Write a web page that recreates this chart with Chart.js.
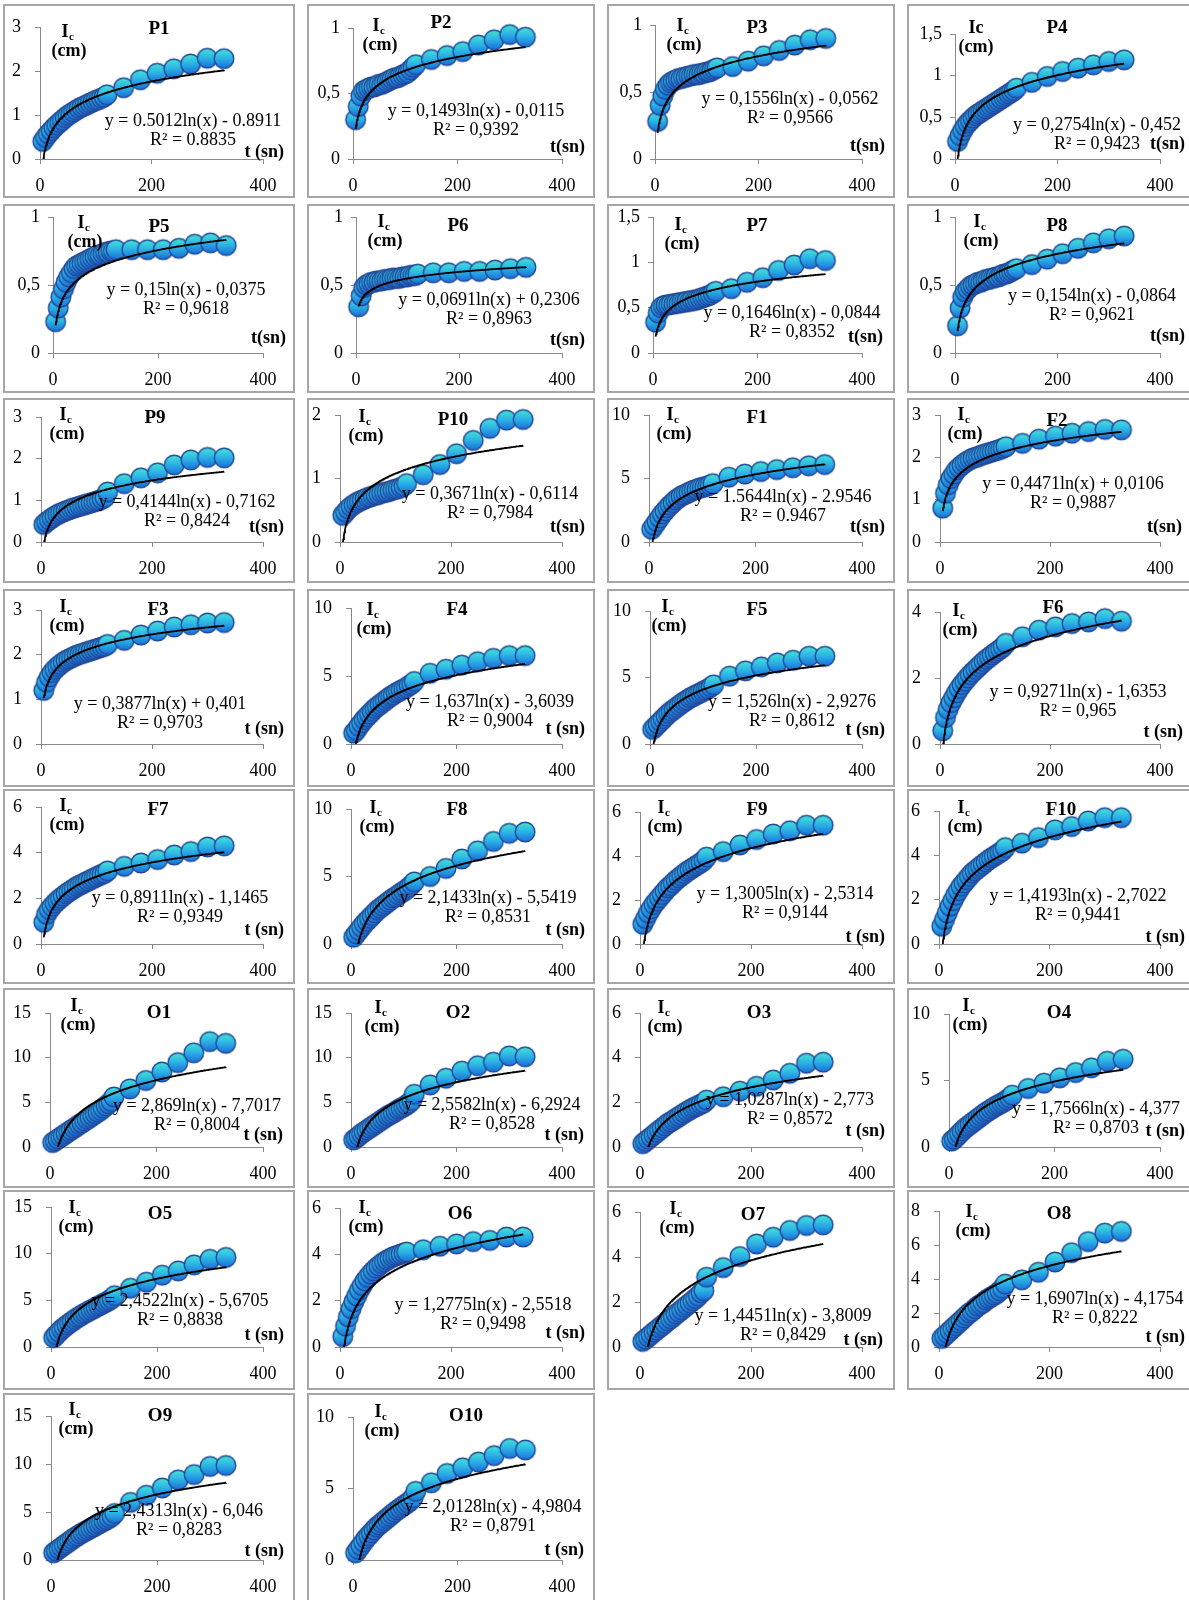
<!DOCTYPE html>
<html><head><meta charset="utf-8">
<script src="https://cdn.jsdelivr.net/npm/chart.js@4.4.1/dist/chart.umd.min.js"></script>
<style>
html,body{margin:0;padding:0;background:#fff;width:1189px;height:1600px;overflow:hidden;position:relative;}
.panel{position:absolute;border:2px solid #a6a6a6;box-sizing:border-box;background:#fff;overflow:hidden;}
.panel canvas{position:absolute;left:0;top:0;}
</style></head><body>
<script>
// ---------------- DATA ----------------
const times = [5,10,15,20,25,30,35,40,45,50,55,60,65,70,75,80,85,90,95,100,105,110,115,120,150,180,210,240,270,300,330];
const xTicks = [0,200,400];
const panelNames = ['P1','P2','P3','P4','P5','P6','P7','P8','P9','P10','F1','F2','F3','F4','F5','F6','F7','F8','F9','F10','O1','O2','O3','O4','O5','O6','O7','O8','O9','O10'];

const P1 = [0.40,0.49,0.57,0.64,0.71,0.77,0.83,0.88,0.94,0.99,1.03,1.07,1.11,1.15,1.18,1.21,1.24,1.27,1.30,1.33,1.35,1.38,1.41,1.46,1.62,1.80,1.95,2.05,2.16,2.29,2.28];
const P2 = [0.30,0.40,0.48,0.52,0.53,0.54,0.55,0.55,0.56,0.57,0.57,0.58,0.59,0.60,0.61,0.62,0.62,0.63,0.64,0.65,0.66,0.68,0.70,0.72,0.76,0.79,0.82,0.87,0.91,0.95,0.93];
const P3 = [0.28,0.40,0.47,0.52,0.55,0.57,0.58,0.59,0.60,0.60,0.61,0.61,0.62,0.62,0.63,0.63,0.63,0.64,0.64,0.65,0.65,0.66,0.67,0.68,0.69,0.73,0.77,0.81,0.85,0.89,0.90];
const P4 = [0.21,0.28,0.34,0.39,0.43,0.46,0.49,0.52,0.54,0.56,0.58,0.60,0.62,0.64,0.66,0.68,0.70,0.72,0.74,0.76,0.78,0.80,0.82,0.85,0.92,0.99,1.05,1.09,1.13,1.17,1.19];
const P5 = [0.23,0.33,0.41,0.47,0.52,0.56,0.59,0.62,0.64,0.65,0.66,0.67,0.68,0.69,0.70,0.71,0.72,0.72,0.73,0.74,0.74,0.75,0.75,0.76,0.76,0.76,0.76,0.77,0.80,0.81,0.79];
const P6 = [0.34,0.42,0.48,0.50,0.51,0.52,0.52,0.53,0.53,0.53,0.54,0.54,0.54,0.55,0.55,0.55,0.55,0.56,0.56,0.56,0.57,0.57,0.57,0.58,0.59,0.59,0.60,0.60,0.61,0.62,0.63];
const P7 = [0.34,0.44,0.50,0.52,0.53,0.53,0.54,0.54,0.55,0.55,0.56,0.56,0.57,0.57,0.58,0.58,0.59,0.60,0.61,0.62,0.63,0.64,0.66,0.68,0.71,0.78,0.83,0.91,0.97,1.04,1.02];
const P8 = [0.20,0.33,0.41,0.45,0.47,0.49,0.50,0.51,0.52,0.52,0.53,0.54,0.54,0.55,0.55,0.56,0.56,0.57,0.58,0.58,0.59,0.60,0.61,0.62,0.65,0.69,0.73,0.77,0.81,0.84,0.86];
const P9 = [0.42,0.48,0.53,0.58,0.62,0.66,0.69,0.72,0.75,0.77,0.80,0.82,0.84,0.86,0.88,0.90,0.92,0.94,0.96,0.98,1.00,1.03,1.07,1.20,1.40,1.54,1.66,1.85,1.97,2.03,2.02];
const P10 = [0.42,0.47,0.52,0.56,0.59,0.62,0.64,0.66,0.68,0.70,0.71,0.73,0.74,0.75,0.77,0.78,0.79,0.80,0.82,0.83,0.84,0.86,0.88,0.92,1.06,1.22,1.39,1.60,1.79,1.92,1.93];
const F1 = [1.0,1.3,1.6,1.9,2.2,2.45,2.7,2.9,3.1,3.3,3.45,3.6,3.7,3.8,3.9,4.0,4.1,4.15,4.25,4.3,4.35,4.4,4.5,4.6,5.1,5.35,5.55,5.7,5.85,6.0,6.1];
const F2 = [0.80,1.15,1.35,1.50,1.60,1.70,1.76,1.82,1.87,1.91,1.95,1.98,2.00,2.02,2.05,2.07,2.09,2.11,2.13,2.15,2.17,2.19,2.22,2.25,2.33,2.43,2.50,2.57,2.61,2.66,2.65];
const F3 = [1.20,1.38,1.50,1.60,1.67,1.73,1.78,1.83,1.87,1.90,1.93,1.96,1.99,2.01,2.03,2.05,2.07,2.09,2.11,2.13,2.15,2.17,2.19,2.23,2.32,2.44,2.53,2.62,2.67,2.71,2.72];
const F4 = [0.8,1.0,1.3,1.55,1.8,2.0,2.2,2.4,2.6,2.75,2.9,3.05,3.2,3.35,3.5,3.6,3.75,3.85,3.95,4.05,4.15,4.3,4.4,4.6,5.2,5.5,5.8,6.05,6.3,6.5,6.5];
const F5 = [1.1,1.3,1.5,1.7,1.9,2.1,2.3,2.45,2.6,2.75,2.9,3.05,3.2,3.3,3.45,3.55,3.65,3.75,3.85,3.95,4.05,4.15,4.3,4.45,5.1,5.5,5.8,6.1,6.3,6.6,6.6];
const F6 = [0.4,0.8,1.05,1.25,1.4,1.55,1.68,1.8,1.9,2.0,2.1,2.18,2.26,2.34,2.42,2.5,2.57,2.63,2.7,2.76,2.82,2.88,2.95,3.05,3.25,3.45,3.55,3.65,3.7,3.8,3.72];
const F7 = [0.95,1.3,1.5,1.65,1.78,1.9,2.0,2.1,2.2,2.28,2.36,2.44,2.52,2.58,2.64,2.7,2.76,2.82,2.88,2.94,3.0,3.05,3.1,3.2,3.4,3.55,3.7,3.9,4.05,4.25,4.3];
const F8 = [0.5,0.75,1.0,1.25,1.5,1.7,1.9,2.1,2.3,2.5,2.65,2.8,2.95,3.1,3.25,3.4,3.5,3.65,3.8,3.9,4.05,4.2,4.4,4.6,5.0,5.6,6.3,6.9,7.6,8.2,8.3];
const F9 = [0.9,1.15,1.4,1.6,1.8,1.95,2.1,2.25,2.4,2.55,2.65,2.78,2.9,3.0,3.1,3.2,3.3,3.38,3.46,3.54,3.62,3.7,3.8,3.95,4.2,4.5,4.75,5.0,5.15,5.4,5.4];
const F10 = [0.8,1.1,1.4,1.7,1.95,2.2,2.4,2.6,2.75,2.9,3.05,3.2,3.3,3.4,3.5,3.6,3.7,3.8,3.88,3.96,4.04,4.12,4.2,4.35,4.55,4.8,5.15,5.3,5.55,5.7,5.7];
const O1 = [0.5,0.7,0.9,1.1,1.3,1.5,1.72,1.9,2.1,2.3,2.52,2.7,2.9,3.1,3.3,3.5,3.72,3.9,4.1,4.35,4.6,4.85,5.1,5.6,6.5,7.45,8.4,9.45,10.55,11.8,11.6];
const O2 = [0.8,1.0,1.25,1.5,1.7,1.9,2.1,2.3,2.5,2.7,2.9,3.1,3.3,3.5,3.65,3.8,4.0,4.2,4.35,4.5,4.7,4.9,5.2,5.9,6.95,7.7,8.5,9.1,9.5,10.2,10.1];
const O3 = [0.15,0.25,0.35,0.45,0.55,0.65,0.75,0.85,0.95,1.05,1.12,1.2,1.28,1.36,1.44,1.52,1.6,1.67,1.74,1.8,1.86,1.92,1.98,2.1,2.25,2.5,2.72,3.0,3.3,3.75,3.8];
const O4 = [0.45,0.6,0.8,1.0,1.2,1.4,1.55,1.7,1.85,2.0,2.15,2.3,2.45,2.6,2.72,2.85,2.97,3.1,3.2,3.3,3.42,3.55,3.7,3.9,4.4,4.8,5.2,5.6,5.95,6.45,6.6];
const O5 = [1.0,1.3,1.6,1.9,2.1,2.35,2.55,2.75,2.95,3.15,3.3,3.5,3.65,3.8,3.95,4.1,4.25,4.4,4.55,4.7,4.85,5.0,5.2,5.5,6.3,6.95,7.7,8.15,8.8,9.4,9.6];
const O6 = [0.45,0.9,1.3,1.65,1.95,2.2,2.45,2.65,2.85,3.0,3.15,3.28,3.4,3.5,3.6,3.68,3.75,3.82,3.88,3.93,3.97,4.01,4.05,4.1,4.2,4.35,4.45,4.55,4.6,4.75,4.75];
const O7 = [0.25,0.35,0.45,0.55,0.66,0.75,0.86,0.95,1.05,1.16,1.25,1.35,1.46,1.55,1.65,1.76,1.85,1.95,2.06,2.15,2.26,2.4,2.5,3.1,3.53,4.02,4.58,4.88,5.18,5.4,5.43];
const O8 = [0.5,0.65,0.8,0.95,1.1,1.25,1.4,1.55,1.7,1.85,2.0,2.1,2.25,2.4,2.5,2.6,2.75,2.85,2.95,3.05,3.15,3.3,3.45,3.7,3.95,4.4,5.0,5.55,6.2,6.7,6.8];
const O9 = [0.75,0.95,1.15,1.35,1.55,1.75,1.95,2.15,2.35,2.5,2.7,2.85,3.0,3.15,3.3,3.45,3.6,3.75,3.9,4.05,4.2,4.35,4.55,4.85,6.0,6.75,7.5,8.35,8.9,9.75,9.85];
const O10 = [0.5,0.75,1.0,1.25,1.5,1.7,1.9,2.1,2.3,2.45,2.6,2.75,2.9,3.05,3.2,3.35,3.5,3.62,3.75,3.88,4.0,4.15,4.35,4.8,5.4,6.05,6.45,6.85,7.3,7.8,7.7];

const seriesValues = [P1,P2,P3,P4,P5,P6,P7,P8,P9,P10,F1,F2,F3,F4,F5,F6,F7,F8,F9,F10,O1,O2,O3,O4,O5,O6,O7,O8,O9,O10];

const yTicks = [
  [0,1,2,3],[0,0.5,1],[0,0.5,1],[0,0.5,1,1.5],
  [0,0.5,1],[0,0.5,1],[0,0.5,1,1.5],[0,0.5,1],
  [0,1,2,3],[0,1,2],[0,5,10],[0,1,2,3],
  [0,1,2,3],[0,5,10],[0,5,10],[0,2,4],
  [0,2,4,6],[0,5,10],[0,2,4,6],[0,2,4,6],
  [0,5,10,15],[0,5,10,15],[0,2,4,6],[0,5,10],
  [0,5,10,15],[0,2,4,6],[0,2,4,6],[0,2,4,6,8],
  [0,5,10,15],[0,5,10]
];

// trendline coefficients (y = a ln(x) + b) as printed on each panel
const trendA = [0.5012,0.1493,0.1556,0.2754,0.15,0.0691,0.1646,0.154,0.4144,0.3671,1.5644,0.4471,0.3877,1.637,1.526,0.9271,0.8911,2.1433,1.3005,1.4193,2.869,2.5582,1.0287,1.7566,2.4522,1.2775,1.4451,1.6907,2.4313,2.0128];
const trendB = [-0.8911,-0.0115,-0.0562,-0.452,-0.0375,0.2306,-0.0844,-0.0864,-0.7162,-0.6114,-2.9546,0.0106,0.401,-3.6039,-2.9276,-1.6353,-1.1465,-5.5419,-2.5314,-2.7022,-7.7017,-6.2924,-2.773,-4.377,-5.6705,-2.5518,-3.8009,-4.1754,-6.046,-4.9804];

const eqLabels = [
  'y = 0.5012ln(x) - 0.8911','y = 0,1493ln(x) - 0,0115','y = 0,1556ln(x) - 0,0562','y = 0,2754ln(x) - 0,452',
  'y = 0,15ln(x) - 0,0375','y = 0,0691ln(x) + 0,2306','y = 0,1646ln(x) - 0,0844','y = 0,154ln(x) - 0,0864',
  'y = 0,4144ln(x) - 0,7162','y = 0,3671ln(x) - 0,6114','y = 1.5644ln(x) - 2.9546','y = 0,4471ln(x) + 0,0106',
  'y = 0,3877ln(x) + 0,401','y = 1,637ln(x) - 3,6039','y = 1,526ln(x) - 2,9276','y = 0,9271ln(x) - 1,6353',
  'y = 0,8911ln(x) - 1,1465','y = 2,1433ln(x) - 5,5419','y = 1,3005ln(x) - 2,5314','y = 1,4193ln(x) - 2,7022',
  'y = 2,869ln(x) - 7,7017','y = 2,5582ln(x) - 6,2924','y = 1,0287ln(x) - 2,773','y = 1,7566ln(x) - 4,377',
  'y = 2,4522ln(x) - 5,6705','y = 1,2775ln(x) - 2,5518','y = 1,4451ln(x) - 3,8009','y = 1,6907ln(x) - 4,1754',
  'y = 2,4313ln(x) - 6,046','y = 2,0128ln(x) - 4,9804'
];
const r2Labels = [
  'R² = 0.8835','R² = 0,9392','R² = 0,9566','R² = 0,9423',
  'R² = 0,9618','R² = 0,8963','R² = 0,8352','R² = 0,9621',
  'R² = 0,8424','R² = 0,7984','R² = 0.9467','R² = 0,9887',
  'R² = 0,9703','R² = 0,9004','R² = 0,8612','R² = 0,965',
  'R² = 0,9349','R² = 0,8531','R² = 0,9144','R² = 0,9441',
  'R² = 0,8004','R² = 0,8528','R² = 0,8572','R² = 0,8703',
  'R² = 0,8838','R² = 0,9498','R² = 0,8429','R² = 0,8222',
  'R² = 0,8283','R² = 0,8791'
];
const xAxisLabels = ['t (sn)','t(sn)','t(sn)','t(sn)','t(sn)','t(sn)','t(sn)','t(sn)','t(sn)','t(sn)','t(sn)','t(sn)',
  't (sn)','t (sn)','t (sn)','t (sn)','t (sn)','t (sn)','t (sn)','t (sn)','t (sn)','t (sn)','t (sn)','t (sn)',
  't (sn)','t (sn)','t (sn)','t (sn)','t (sn)','t (sn)'];

// ---------------- LAYOUT (pixels, relative to each panel box) ----------------
const colLeft = [3,307,607,907], colWidth = [292,288,288,286];
const rowTop = [4,204,398,589,789,988,1190,1393], rowHeight = [194,189,185,198,195,200,200,210];
const axisBottomGap = [39,40,41,43,40,41,43,43];
const xRightPos = [260,255,255,253];
const plotTopPos = [23,24,21,30, 12,10,12,10, 19,17,17,17, 21,19,22,23, 18,20,23,22, 25,25,25,26, 17,18,22,21, 23,24];
const axisLeftPos = [37,46,48,48, 50,49,46,48, 38,33,42,33, 38,44,43,33, 38,44,33,32, 47,44,33,42, 48,33,33,32, 48,46];
const titlePos = [[156,25],[134,19],[150,24],[150,24],[156,23],[151,22],[150,22],[150,22],[152,20],[146,22],[150,20],[150,23],
  [155,21],[150,21],[150,21],[146,19],[155,21],[150,21],[150,21],[154,21],[156,25],[151,25],[152,25],[152,25],
  [157,24],[153,24],[146,25],[152,24],[157,23],[159,23]];
const cmPos = [[66,47],[73,41],[77,41],[69,43],[82,38],[78,37],[75,40],[74,37],[64,36],[59,38],[67,36],[58,36],
  [64,37],[67,40],[62,37],[53,41],[64,36],[70,38],[58,38],[58,38],[75,37],[75,39],[58,39],[63,37],
  [73,37],[59,37],[70,38],[66,41],[73,36],[75,38]];
const eqPos = [[190,117],[169,107],[183,95],[190,121],[183,86],[182,96],[185,109],[185,92],[184,104],[183,96],[176,99],[166,86],
  [157,115],[183,113],[185,113],[171,103],[177,109],[181,109],[178,105],[171,107],[194,118],[185,117],[183,112],[189,121],
  [177,111],[176,115],[176,126],[188,109],[176,118],[186,114]];
const tPos = [[281,148],[278,143],[278,142],[278,140],[283,134],[278,136],[276,133],[278,132],[281,129],[278,129],[278,129],[275,129],
  [281,140],[278,140],[278,141],[276,143],[281,141],[278,141],[278,148],[278,148],[280,147],[277,147],[278,143],[278,143],
  [281,145],[278,143],[276,150],[278,147],[281,158],[277,157]];

const FONT = '"Liberation Serif", "Times New Roman", serif';
const AXIS_COLOR = '#8a8a8a';

// marker: gradient circle
function makeMarker(){
  const s = 24, c = document.createElement('canvas');
  c.width = s; c.height = s;
  const g = c.getContext('2d');
  const r = 9.8;
  const grad = g.createLinearGradient(0, s/2 - r, 0, s/2 + r);
  grad.addColorStop(0, '#46e4cf');
  grad.addColorStop(0.45, '#2db6e7');
  grad.addColorStop(1, '#1a6fd6');
  g.beginPath(); g.arc(s/2, s/2, r, 0, Math.PI*2);
  g.fillStyle = grad; g.fill();
  g.lineWidth = 1.4; g.strokeStyle = '#22479a'; g.stroke();
  return c;
}
const marker = makeMarker();

function fmt(v){ return String(v).replace('.', ','); }

function textPlugin(i){
  return {
    id: 'panelText' + i,
    afterDraw(chart){
      const ctx = chart.ctx;
      ctx.save();
      ctx.fillStyle = '#000';
      ctx.textBaseline = 'middle';
      ctx.font = 'bold 19px ' + FONT;
      ctx.textAlign = 'center';
      ctx.fillText(panelNames[i], titlePos[i][0]-2, titlePos[i][1]-2);
      const cx = cmPos[i][0]-2, cy = cmPos[i][1]-2;
      ctx.font = 'bold 18px ' + FONT;
      ctx.fillText('(cm)', cx, cy);
      if (panelNames[i] === 'P4') {
        ctx.fillText('Ic', cx, cy - 19);
      } else {
        const iw = ctx.measureText('I').width;
        ctx.fillText('I', cx - 4, cy - 19);
        ctx.font = 'bold 11px ' + FONT;
        ctx.textAlign = 'left';
        ctx.fillText('c', cx - 4 + iw/2 + 0.5, cy - 14);
      }
      ctx.font = '18px ' + FONT;
      ctx.textAlign = 'center';
      ctx.fillText(eqLabels[i], eqPos[i][0]-2, eqPos[i][1]-2);
      ctx.fillText(r2Labels[i], eqPos[i][0]-2, eqPos[i][1]-2+19);
      ctx.font = 'bold 18px ' + FONT;
      ctx.textAlign = 'right';
      ctx.fillText(xAxisLabels[i], tPos[i][0]-2, tPos[i][1]-2);
      ctx.restore();
    }
  };
}

panelNames.forEach((name, i) => {
  const r = Math.floor(i/4), c = i % 4;
  const W = colWidth[c], H = rowHeight[r];
  const div = document.createElement('div');
  div.className = 'panel';
  div.style.left = colLeft[c] + 'px';
  div.style.top = rowTop[r] + 'px';
  div.style.width = W + 'px';
  div.style.height = H + 'px';
  const cv = document.createElement('canvas');
  cv.width = W - 4; cv.height = H - 4;
  cv.style.width = (W-4) + 'px'; cv.style.height = (H-4) + 'px';
  div.appendChild(cv);
  document.body.appendChild(div);

  const vals = seriesValues[i];
  const pts = times.map((t, k) => ({x: t, y: vals[k]}));
  const trend = [];
  for (let x = times[0]; x <= times[times.length-1]; x += 1) {
    trend.push({x: x, y: trendA[i]*Math.log(x) + trendB[i]});
  }
  const yt = yTicks[i];
  const hasComma = yt.some(v => fmt(v).indexOf(',') >= 0);
  const padRight = (W - 2) - xRightPos[c];

  new Chart(cv, {
    type: 'scatter',
    data: { datasets: [
      { data: trend, showLine: true, borderColor: '#000', borderWidth: 1.8, pointRadius: 0, pointHoverRadius: 0, fill: false, tension: 0 },
      { data: pts, pointStyle: marker, pointRadius: 10, pointHoverRadius: 10, clip: false }
    ]},
    options: {
      responsive: false, animation: false, devicePixelRatio: 1, events: [],
      layout: { padding: { left: 0, right: padRight, top: plotTopPos[i] - 2, bottom: 0 } },
      plugins: { legend: {display: false}, tooltip: {enabled: false}, title: {display: false} },
      scales: {
        x: {
          type: 'linear', min: 0, max: 400,
          afterBuildTicks: s => { s.ticks = xTicks.map(v => ({value: v})); },
          ticks: { font: {family: FONT, size: 18}, color: '#000', padding: 11, maxRotation: 0, autoSkip: false },
          grid: { drawOnChartArea: false, drawTicks: true, tickLength: 5, color: AXIS_COLOR },
          border: { display: true, color: AXIS_COLOR, width: 1 },
          afterFit: s => { s.height = axisBottomGap[r] - 2; s.paddingLeft = 0; s.paddingRight = 0; }
        },
        y: {
          type: 'linear', min: 0, max: yt[yt.length-1],
          afterBuildTicks: s => { s.ticks = yt.map(v => ({value: v})); },
          ticks: { font: {family: FONT, size: 18}, color: '#000', padding: hasComma ? 8 : 14, autoSkip: false, callback: v => fmt(v) },
          grid: { drawOnChartArea: false, drawTicks: true, tickLength: 5, color: AXIS_COLOR },
          border: { display: true, color: AXIS_COLOR, width: 1 },
          afterFit: s => { s.width = axisLeftPos[i] - 2; s.paddingTop = 0; s.paddingBottom = 0; }
        }
      }
    },
    plugins: [textPlugin(i)]
  });
});
</script>
</body></html>
